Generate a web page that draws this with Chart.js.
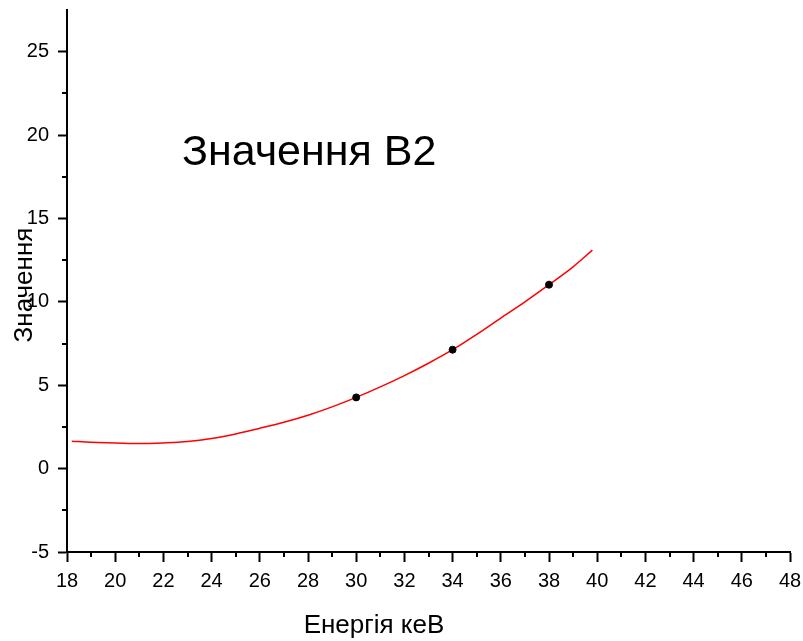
<!DOCTYPE html>
<html>
<head>
<meta charset="utf-8">
<script src="https://cdn.jsdelivr.net/npm/chart.js@4/dist/chart.umd.min.js"></script>
<style>
    body { margin: 0; background: #fff; }
    #box { width: 803px; height: 641px; }
</style>
</head>
<body>
<div id="box"><canvas id="chartB2"></canvas></div>
<script>
// fitted curve
var curvaX = [18.2, 19, 20, 21, 22, 23, 24, 25, 26, 27, 28, 29, 30, 31, 32, 33, 34, 35, 36, 37, 38, 39, 39.8];
var curvaY = [1.64, 1.58, 1.54, 1.5, 1.54, 1.62, 1.8, 2.08, 2.42, 2.78, 3.2, 3.7, 4.27, 4.9, 5.58, 6.32, 7.13, 8.05, 9.03, 10.0, 11.03, 12.1, 13.1];

// measured points
var pontosX = [30, 34, 38];
var pontosY = [4.27, 7.13, 11.03];

var ticksX = [18, 20, 22, 24, 26, 28, 30, 32, 34, 36, 38, 40, 42, 44, 46, 48];
var ticksY = [-5, 0, 5, 10, 15, 20, 25];
var minorX = [19, 21, 23, 25, 27, 29, 31, 33, 35, 37, 39, 41, 43, 45, 47];
var minorY = [-2.5, 2.5, 7.5, 12.5, 17.5, 22.5];

var titulo = "Значення B2";
var tituloX = "Енергія кеВ";
var tituloY = "Значення";

var fonte = "'Liberation Sans', Arial, sans-serif";

function juntar(xs, ys) {
    var out = [];
    for (let i = 0; i < xs.length; i++) {
        out.push({ x: xs[i], y: ys[i] });
    }
    return out;
}

// minor ticks + texts drawn by hand
var extras = {
    id: "extras",
    afterDraw: function (chart) {
        var ctx = chart.ctx;
        var sx = chart.scales.x;
        var sy = chart.scales.y;
        var area = chart.chartArea;

        ctx.save();
        ctx.strokeStyle = "#000";
        ctx.lineWidth = 2;
        for (let i = 0; i < minorX.length; i++) {
            let px = Math.round(sx.getPixelForValue(minorX[i]));
            ctx.beginPath();
            ctx.moveTo(px, area.bottom);
            ctx.lineTo(px, area.bottom + 5);
            ctx.stroke();
        }
        for (let i = 0; i < minorY.length; i++) {
            let py = Math.round(sy.getPixelForValue(minorY[i]));
            ctx.beginPath();
            ctx.moveTo(area.left, py);
            ctx.lineTo(area.left - 5, py);
            ctx.stroke();
        }

        ctx.fillStyle = "#000";
        ctx.textBaseline = "alphabetic";
        ctx.textAlign = "left";
        ctx.font = "43px " + fonte;
        ctx.fillText(titulo, 182, 165);

        ctx.textAlign = "center";
        ctx.font = "26px " + fonte;
        ctx.fillText(tituloX, 374, 633);

        ctx.translate(32, 285);
        ctx.rotate(-Math.PI / 2);
        ctx.fillText(tituloY, 0, 0);
        ctx.restore();
    }
};

var ctx = document.getElementById("chartB2");

var dadosCurva = {
    data: juntar(curvaX, curvaY),
    showLine: true,
    borderColor: "#ff0000",
    borderWidth: 1.5,
    pointRadius: 0,
    cubicInterpolationMode: "monotone",
    order: 2
};

var dadosPontos = {
    data: juntar(pontosX, pontosY),
    showLine: false,
    backgroundColor: "#000",
    borderColor: "#000",
    borderWidth: 1,
    pointRadius: 3.5,
    order: 1
};

var grafico = new Chart(ctx, {
    type: "scatter",
    data: { datasets: [dadosCurva, dadosPontos] },
    plugins: [extras],
    options: {
        responsive: true,
        maintainAspectRatio: false,
        animation: false,
        layout: { padding: { top: 10, right: 13, left: 0, bottom: 0 } },
        plugins: {
            legend: { display: false },
            tooltip: { enabled: false }
        },
        scales: {
            x: {
                type: "linear",
                min: 18,
                max: 48,
                afterBuildTicks: function (s) {
                    s.ticks = ticksX.map(v => ({ value: v }));
                },
                afterFit: function (s) {
                    s.height = 89;
                    s.paddingLeft = 0;
                    s.paddingRight = 0;
                },
                border: { color: "#000", width: 2 },
                grid: {
                    drawOnChartArea: false,
                    drawTicks: true,
                    tickLength: 10,
                    tickColor: "#000",
                    tickWidth: 2
                },
                ticks: {
                    color: "#000",
                    font: { size: 20, family: fonte },
                    padding: 7,
                    maxRotation: 0,
                    autoSkip: false
                }
            },
            y: {
                type: "linear",
                min: -5,
                max: 27.5,
                afterBuildTicks: function (s) {
                    s.ticks = ticksY.map(v => ({ value: v }));
                },
                afterFit: function (s) {
                    s.width = 67;
                    s.paddingTop = 0;
                    s.paddingBottom = 0;
                },
                border: { color: "#000", width: 2 },
                grid: {
                    drawOnChartArea: false,
                    drawTicks: true,
                    tickLength: 9,
                    tickColor: "#000",
                    tickWidth: 2
                },
                ticks: {
                    color: "#000",
                    font: { size: 20, family: fonte },
                    padding: 9,
                    autoSkip: false
                }
            }
        }
    }
});
</script>
</body>
</html>
